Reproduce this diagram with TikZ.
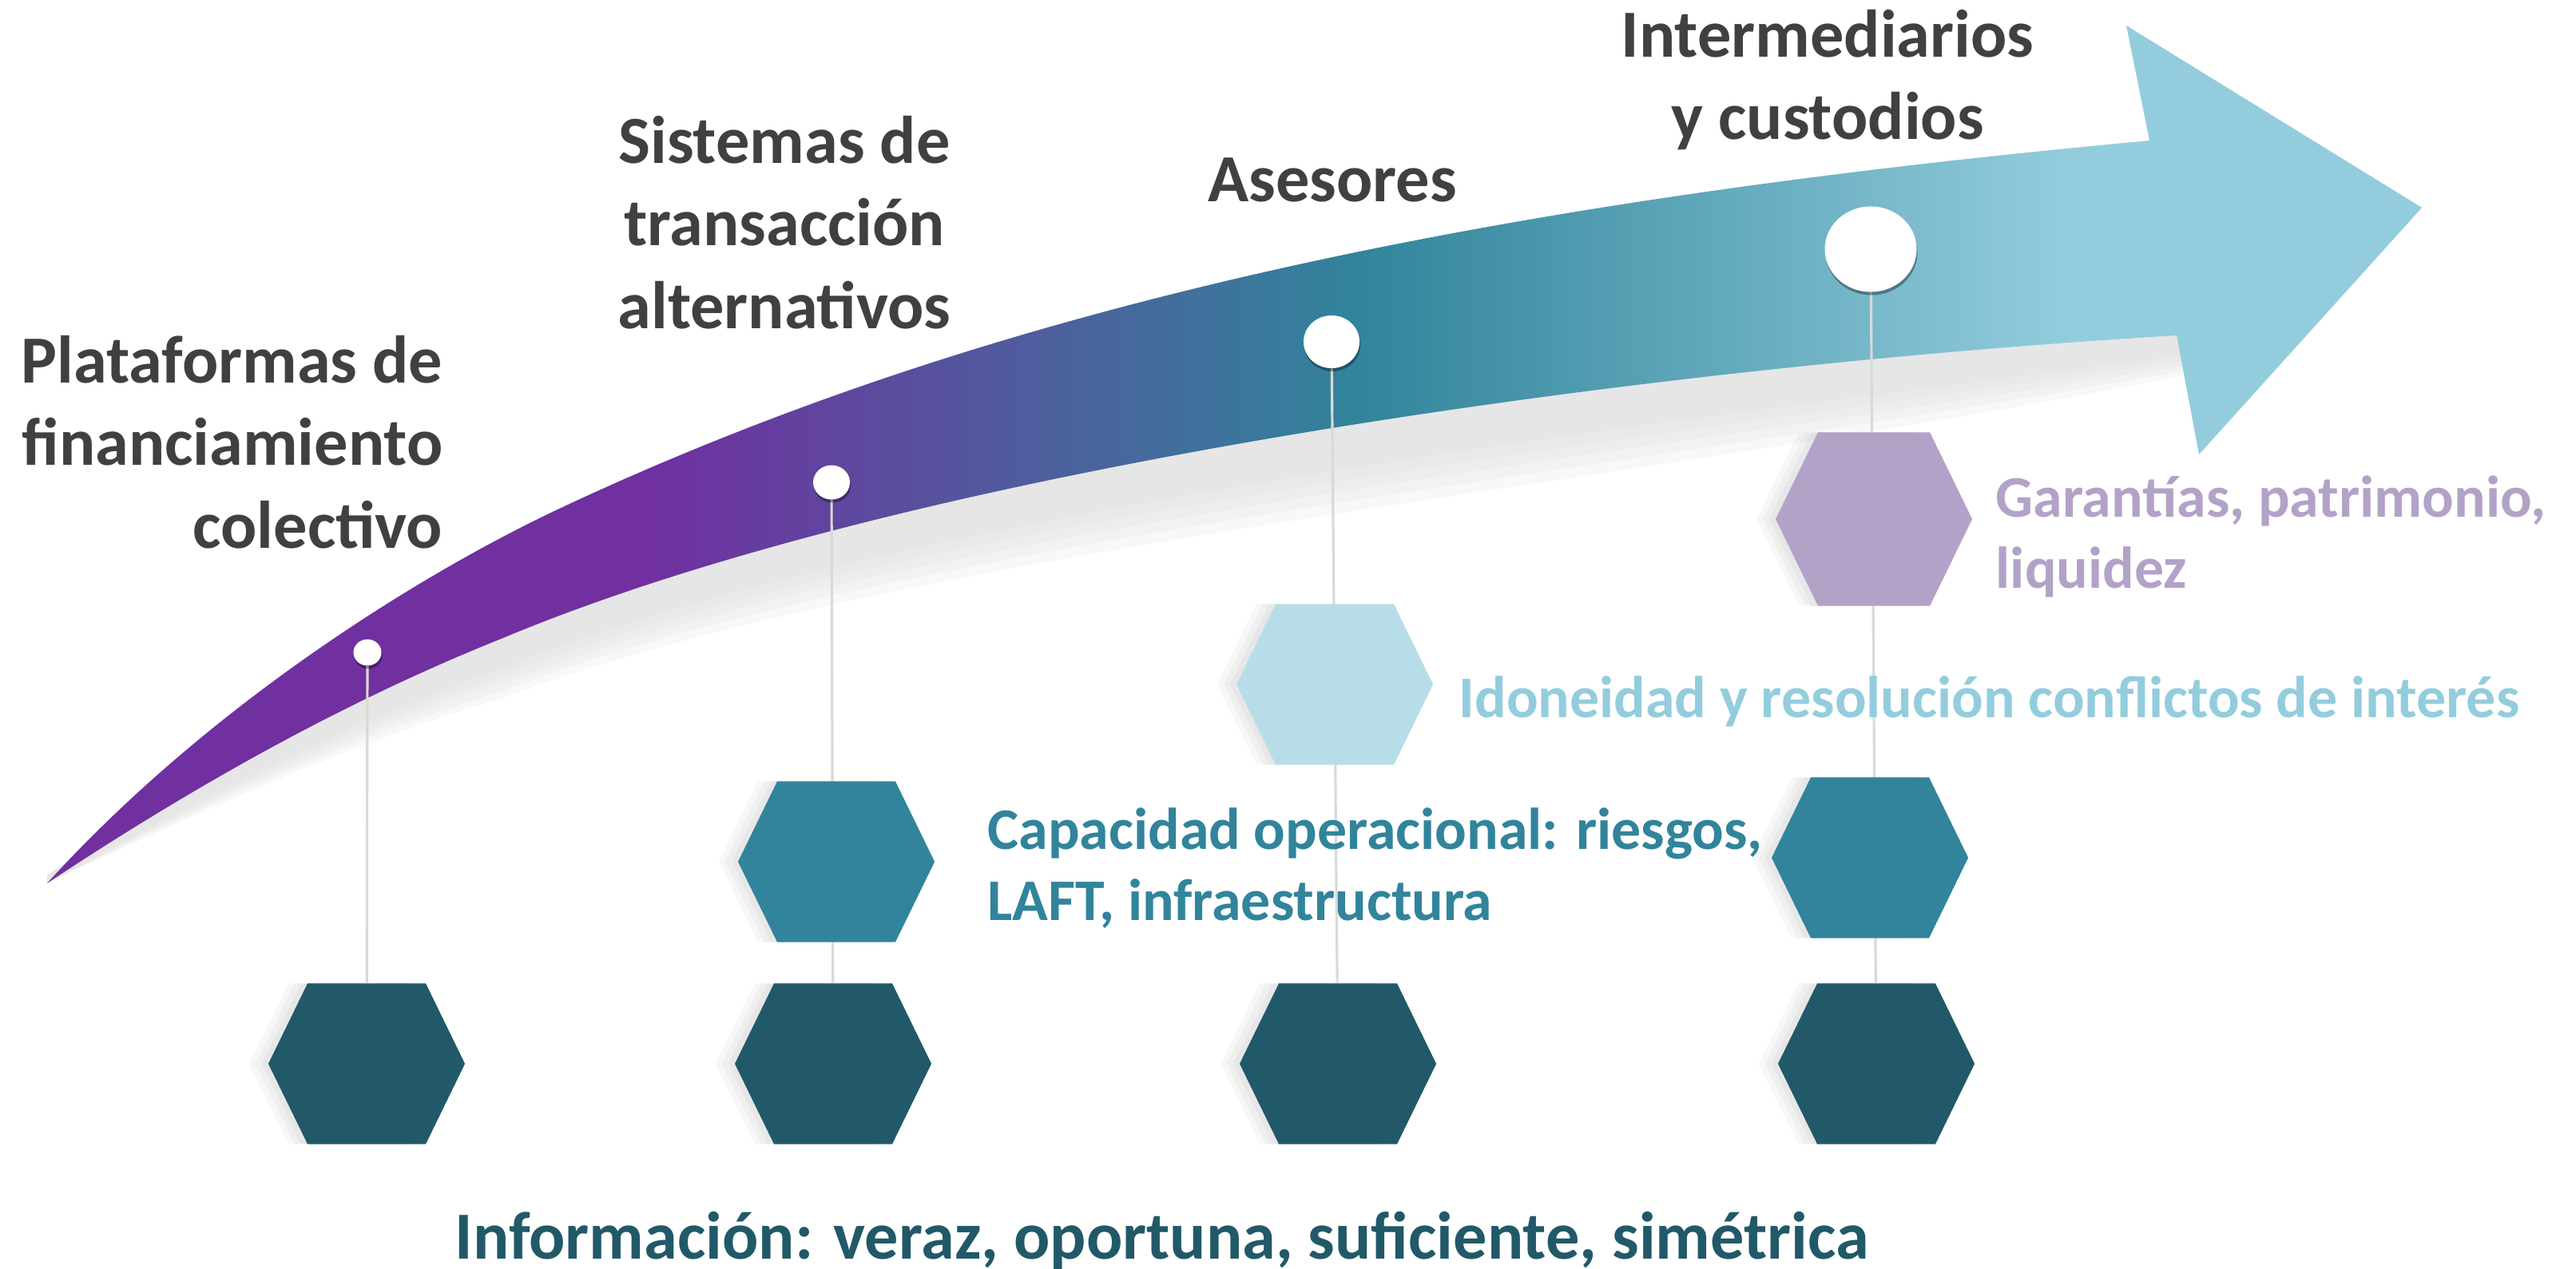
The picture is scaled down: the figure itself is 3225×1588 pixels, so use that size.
\documentclass[tikz,border=0pt]{standalone}
\usepackage{fontspec}
\setmainfont{Carlito}
\usetikzlibrary{shapes.geometric,shapes.symbols,shadows,calc,positioning}

\definecolor{arrowpurple}{HTML}{7030A0}
\definecolor{arrowteal}{HTML}{31849B}
\definecolor{arrowlight}{HTML}{93CDDD}
\definecolor{textgray}{HTML}{404040}
\definecolor{hexdark}{HTML}{215968}
\definecolor{hexteal}{HTML}{31849B}
\definecolor{hexlight}{HTML}{B7DEE8}
\definecolor{hexlilac}{HTML}{B3A2C7}
\definecolor{stemgray}{HTML}{D9D9D9}
\definecolor{shadowgray}{HTML}{DCDCDC}

\pgfdeclarehorizontalshading{arrowshade}{100bp}{color(0bp)=(arrowpurple); color(37.8bp)=(arrowpurple); color(52.6bp)=(arrowteal); color(67.7bp)=(arrowlight); color(100bp)=(arrowlight)}

\pgfdeclarelayer{bg}
\pgfdeclarelayer{stems}
\pgfsetlayers{bg,stems,main}

\tikzset{
  hexbox/.style={signal, signal to=east and west, signal pointer angle=128,
    minimum width=2.46cm, minimum height=2.01cm, inner sep=0pt, draw=none,
    general shadow={fill=black, opacity=0.03, shadow xshift=-0.24cm},
    general shadow={fill=black, opacity=0.03, shadow xshift=-0.16cm},
    general shadow={fill=black, opacity=0.03, shadow xshift=-0.08cm}},
  dotnode/.style={ellipse, fill=white, inner sep=0pt,
    drop shadow={shadow xshift=0.01cm, shadow yshift=-0.04cm, opacity=0.35, fill=black}},
  stem/.style={stemgray, line width=0.9pt},
  titletext/.style={font=\fontsize{24}{29.3}\selectfont\bfseries, text=textgray, inner sep=0pt},
  subtext/.style={font=\fontsize{21}{25.3}\selectfont\bfseries, inner sep=0pt, align=left, anchor=base west}
}

\begin{document}
\begin{tikzpicture}[x=0.01cm, y=-0.01cm]

  \useasboundingbox (0,0) rectangle (3225,1588);

  \begin{pgfonlayer}{bg}
  \fill[white] (0,0) rectangle (3225,1588);

  %% shadow under the arrow
  \foreach \f in {0.5,0.625,0.75,0.875,1.0}
  {
    \fill[shadowgray, opacity=0.2]
      (59,1096) .. controls (249,967) and (437,861) .. (627,785)
      .. controls (1127,575) and (2025,447) .. (2725,405)
      -- (2738,440)
      -- (2735,420+50*\f) .. controls (2025,462+150*\f) and (1127,590+95*\f) .. (627,800+75*\f)
      .. controls (437,876+55*\f) and (249,982+35*\f) .. (59,1106)
      -- cycle;
  }

  %% the arrow
  \shade[shading=arrowshade]
    (59,1106) .. controls (259,886) and (520,722) .. (700,637)
    .. controls (1260,374) and (1891,250) .. (2691,176)
    -- (2662,32) -- (3032,260) -- (2753,569) -- (2725,420)
    .. controls (2025,462) and (1127,590) .. (627,800)
    .. controls (437,876) and (249,980) .. (59,1106)
    -- cycle;
  \end{pgfonlayer}

  %%% dots on the arrow
  \node[dotnode, minimum width=0.35cm, minimum height=0.33cm] (dotPlat) at (460,817) {};
  \node[dotnode, minimum width=0.46cm, minimum height=0.43cm] (dotSist) at (1041,604) {};
  \node[dotnode, minimum width=0.70cm, minimum height=0.66cm] (dotAses) at (1667,428) {};
  \node[dotnode, minimum width=1.15cm, minimum height=1.07cm] (dotInter) at (2342,312) {};

  %%% hexagons
  %% information row
  \node[hexbox, fill=hexdark] (hexPlat) at (459,1332) {};
  \node[hexbox, fill=hexdark] (hexSist) at (1043,1332) {};
  \node[hexbox, fill=hexdark] (hexAses) at (1675,1332) {};
  \node[hexbox, fill=hexdark] (hexInter) at (2349,1332) {};

  %% upper levels
  \node[hexbox, fill=hexteal] (capSist) at (1047,1079) {};
  \node[hexbox, fill=hexteal] (capInter) at (2341,1074) {};
  \node[hexbox, fill=hexlight] (idoAses) at (1671,857) {};
  \node[hexbox, fill=hexlilac, minimum height=2.17cm] (garInter) at (2346,650) {};

  %%% stems
  \begin{pgfonlayer}{stems}
  \draw[stem] (dotPlat) -- (hexPlat);
  \draw[stem] (dotSist) -- (hexSist);
  \draw[stem] (dotAses) -- (hexAses);
  \draw[stem] (dotInter) -- (hexInter);
  \end{pgfonlayer}

  %%% labels (base = last line)
  \node[titletext, align=right, anchor=base east] (platLabel) at (555,686) {Plataformas de\\financiamiento\\colectivo};
  \node[titletext, align=center, anchor=base] (sistLabel) at (982,411) {Sistemas de\\transacción\\alternativos};
  \node[titletext, anchor=base] (asesLabel) at (1668,252) {Asesores};
  \node[titletext, align=center, anchor=base] (interLabel) at (2288,175) {Intermediarios\\y custodios};

  \node[subtext, text=hexlilac] (garLabel) at (2498,736) {Garantías, patrimonio,\\liquidez};
  \node[subtext, text=arrowlight] (idoLabel) at (1826,898) {Idoneidad y resolución conflictos de interés};
  \node[subtext, text=hexteal] (capLabel) at (1236,1152) {Capacidad operacional: riesgos,\\LAFT, infraestructura};
  \node[titletext, text=hexdark, anchor=base west] (infoLabel) at (569,1576) {Información: veraz, oportuna, suficiente, simétrica};

\end{tikzpicture}
\end{document}
